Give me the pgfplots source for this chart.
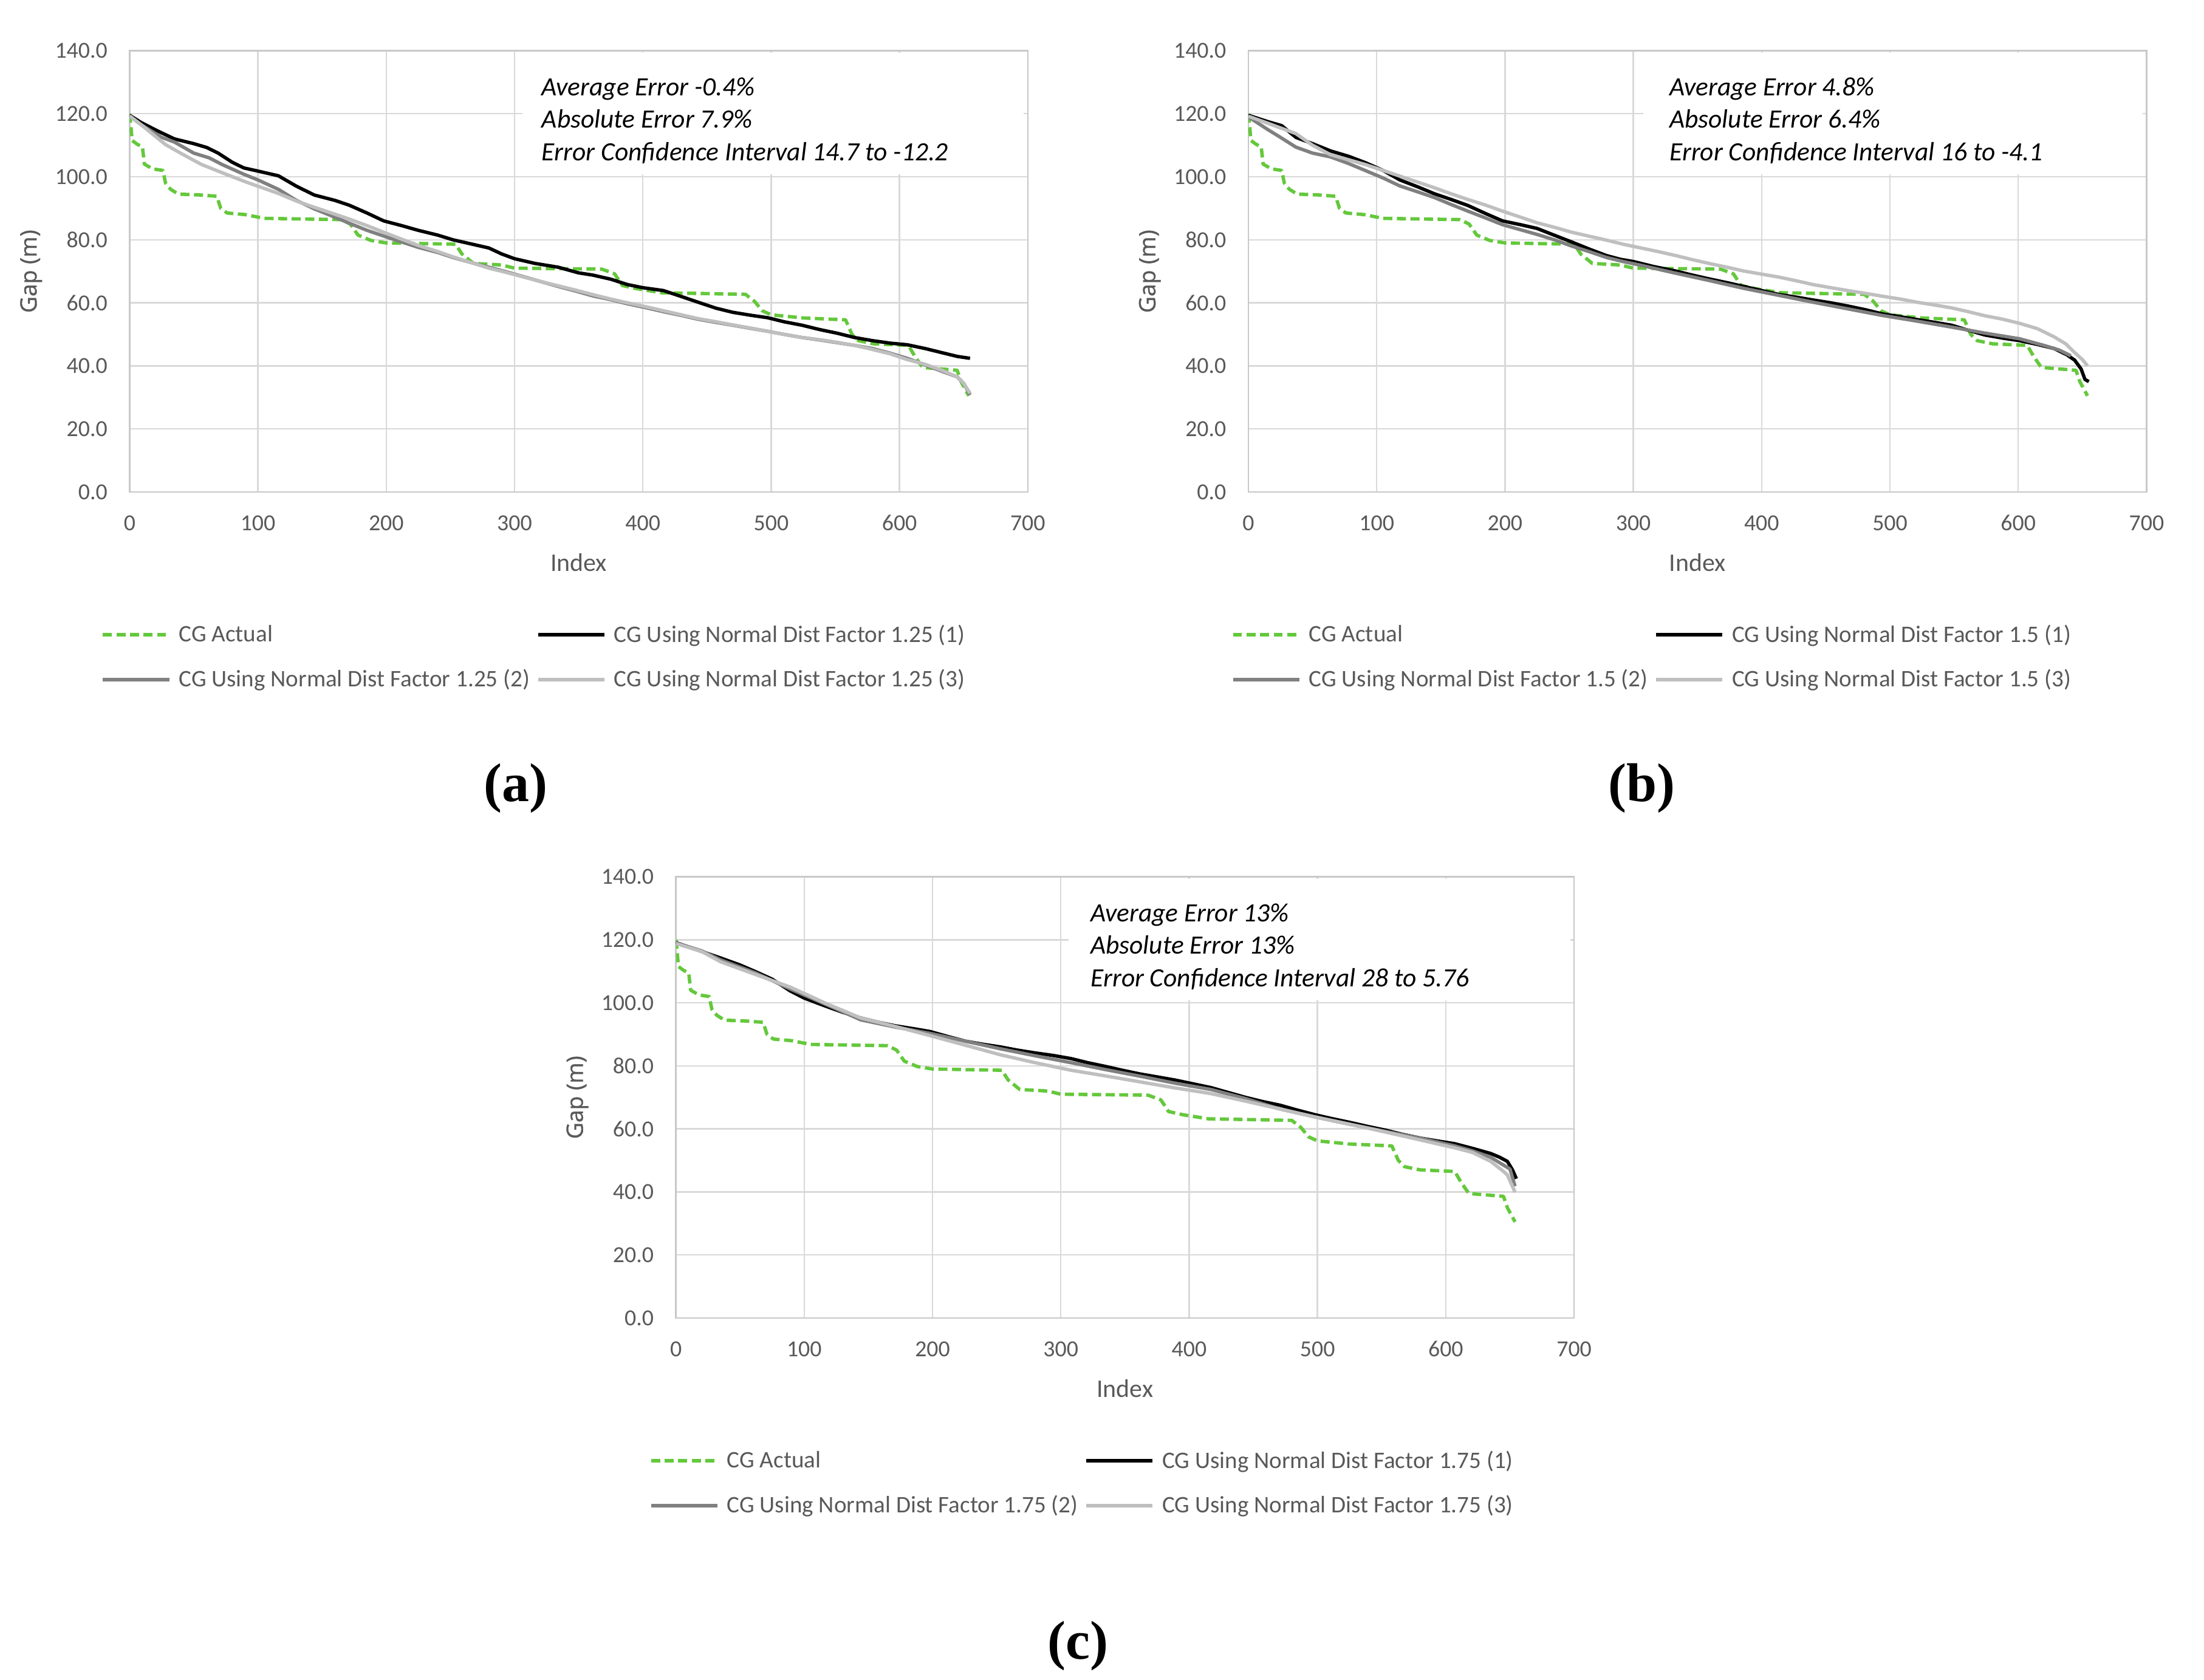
\documentclass[border=0pt]{standalone}
\usepackage{fontspec}
\setmainfont{Carlito}
\newfontfamily\opensans{Open Sans}[FakeBold=1]
\newfontfamily\timesf{Liberation Serif}
\usepackage{pgfplots}
\usepackage{pgfplotstable}
\pgfplotsset{compat=1.18}
\definecolor{cggreen}{RGB}{100,200,60}
\definecolor{cgdark}{RGB}{128,128,128}
\definecolor{cglight}{RGB}{191,191,191}
\definecolor{gridc}{RGB}{217,217,217}
\definecolor{framec}{RGB}{200,200,200}
\definecolor{labc}{RGB}{89,89,89}

\pgfplotstableread{
x y
0 120
1 116
2 111.5
6 110.3
10 109.5
11.5 104
18 102.5
26 102
28 98
32 96
38 94.5
56 94.2
68 93.8
71 90
76 88.5
90 88
100 87.2
105 86.8
150 86.5
165 86.4
172 85
178 81.5
188 79.8
200 79
254 78.6
259 75.5
268 72.5
290 72
300 71
368 70.7
378 69.2
384 65.5
395 64.5
415 63.2
480 62.7
487 60.5
493 57.5
500 56.2
525 55.2
558 54.6
563 50
568 48
580 47
607 46.5
612 43
618 39.5
645 38.6
648 35
654 30.5
}\greentab

\pgfplotstableread{
x y
0 119.5
9 117.2
22 114.5
35 112
50 110.5
60 109.3
69 107.5
80 104.6
89 102.8
100 101.8
116 100.3
130 97
144 94.2
160 92.5
171 91
185 88.5
198 86
212 84.5
225 83
240 81.5
252 80
266 78.7
280 77.4
290 75.5
300 74
316 72.5
334 71.3
350 69.5
361 68.8
375 67.5
388 65.8
400 64.8
416 63.9
430 62
443 60.2
457 58.3
470 57
485 56
497 55.3
510 54
524 52.9
538 51.5
551 50.4
565 49
579 48
593 47.2
606 46.7
620 45.5
633 44.2
645 43
655 42.4
}\aone

\pgfplotstableread{
x y
0 119.3
9 116.5
25 112.5
35 111
50 107.5
62 106
72 103.9
89 100.8
100 99
116 96
130 92.5
144 89.8
158 87.5
171 85.3
185 83
198 81.2
212 79.3
225 77.6
240 76
252 74.4
266 72.8
280 71.3
294 69.8
307 68.3
320 66.8
334 65.2
348 63.7
361 62.2
375 61
388 59.7
402 58.5
416 57.2
430 56
443 54.8
457 53.8
470 52.9
484 51.9
497 51
510 50
524 49
538 48.2
551 47.4
565 46.5
579 45.5
593 44
606 42.4
620 40.3
633 38.3
645 36.5
650 34.5
655 30.8
}\atwo

\pgfplotstableread{
x y
0 119.3
9 116.5
28 110.2
41 107.2
56 103.9
72 101.3
89 98.6
100 97
116 94.7
130 92.3
144 90.3
158 88.4
171 86.6
185 84.5
198 82.4
212 80.2
225 78.2
240 76.3
252 74.6
266 72.8
280 71
294 69.6
307 68.2
320 66.8
334 65.4
348 64
361 62.6
375 61.2
388 60
402 58.8
416 57.5
430 56.2
443 55
457 54
470 53
484 52
497 51
510 50
524 49
538 48.3
551 47.5
565 46.5
579 45.2
593 43.8
606 42
620 40.5
633 38.6
645 36.5
650 34.5
655 31.3
}\athree

\pgfplotstableread{
x y
0 119.5
15 117.5
26 116.2
37 112.5
50 110.5
64 108.2
78 106.5
91 104.5
105 102
118 99
132 96.8
145 94.6
158 92.8
171 90.9
185 88.3
198 86
212 84.8
225 83.6
240 81.2
252 79.3
266 77
279 75
290 73.8
300 73.1
316 71.5
333 70.1
346 68.8
359 67.6
373 66.4
386 65.2
400 63.9
413 62.7
427 61.8
440 60.9
454 60
467 59
481 57.8
494 56.5
508 55.6
521 54.7
535 53.8
548 52.9
561 51.3
574 49.8
588 48.8
601 48
615 46.8
628 45.5
638 43.5
644 41.8
649 39
652 35.7
655 35
}\bone

\pgfplotstableread{
x y
0 119
15 115
25 112.5
37 109.4
50 107.5
64 106.3
78 104.2
91 102
105 99.6
118 97.1
132 95.2
145 93.4
158 91.2
171 89.1
185 86.9
198 84.8
212 83.2
225 81.7
240 79.8
252 78
266 76.2
279 74.4
292 73.1
306 71.9
320 70.6
333 69.4
360 67
386 64.6
413 62.4
440 60.2
467 58.1
494 56
521 54.2
548 52.3
574 50.4
601 48.6
620 46.5
632 45
641 43.2
}\btwo

\pgfplotstableread{
x y
0 119.2
15 117
37 113.7
50 110
64 107
78 105.4
91 103.9
105 102
118 100.2
132 98.3
145 96.5
158 94.6
171 92.8
185 91
198 89.1
212 87.2
225 85.4
240 83.8
252 82.4
266 81.1
279 79.9
292 78.6
306 77.4
320 76.2
333 75
346 73.7
359 72.5
373 71.3
386 70.1
400 69.1
413 68.2
427 67
440 65.8
454 64.8
467 63.9
481 63
494 62.1
508 61.2
521 60.2
535 59.3
548 58.4
561 57.2
574 55.9
588 54.8
601 53.5
615 51.8
628 49.2
637 47
644 44.2
650 42
654 40
}\bthree

\pgfplotstableread{
x y
0 119.1
15 117
35 114.2
50 112
62 109.9
75 107.5
89 103.8
100 101.5
117 98.9
130 97
144 95.2
158 93.8
171 92.7
185 91.8
198 90.9
212 89.3
226 87.8
240 86.8
253 86
266 85
280 84.1
294 83.3
308 82.3
321 81
335 79.8
348 78.6
362 77.4
375 76.5
389 75.5
403 74.3
417 73.1
430 71.6
444 70
457 68.7
471 67.5
484 66
498 64.5
512 63.2
526 62
539 60.8
553 59.6
566 58.3
580 57.1
593 56.2
607 55.3
621 53.8
635 52.2
642 51
648 49.7
652 47
655 44.2
}\cone

\pgfplotstableread{
x y
0 119
20 116.5
35 113.6
62 109.5
89 104.4
117 99.5
144 94.6
171 92.3
198 90.3
226 87.8
253 85.4
280 83.2
308 81
335 78.8
362 76.7
389 74.5
417 72.5
444 69.6
471 66.3
498 63.8
526 61.4
553 59.2
580 57.1
607 54.6
621 53
635 51
645 48.5
650 47.3
654 41.8
}\ctwo

\pgfplotstableread{
x y
0 118.8
20 116.3
35 113
62 109
89 105
117 99.8
144 95.2
171 92.5
198 89.6
226 86.5
253 83.5
280 81
308 78.6
335 76.8
362 74.9
389 73
417 71.2
444 68.8
471 66.3
498 63.8
526 61.4
553 59
580 56.5
607 54
621 52.5
635 49.7
645 46.5
648 45.4
654 39.9
}\cthree

\pgfplotsset{
 cgaxis/.style={
  scale only axis, width=476.8pt, height=234.3pt,
  xmin=0, xmax=700, ymin=0, ymax=140,
  xtick={0,100,...,700}, ytick={0,20,...,140},
  xticklabels={0,100,200,300,400,500,600,700},
  yticklabels={0.0,20.0,40.0,60.0,80.0,100.0,120.0,140.0},
  grid=major, major grid style={draw=gridc, line width=0.8pt},
  axis line style={draw=framec, line width=0.8pt},
  major tick length=0pt, tick style={draw=none},
  every tick label/.append style={inner sep=0pt, font=\fontsize{12.2}{14}\selectfont, text=labc},
  xticklabel style={anchor=center, yshift=-16.5pt},
  yticklabel style={anchor=east, xshift=-11.6pt},
  xlabel={Index}, ylabel={Gap (m)},
  xlabel style={at={(axis description cs:0.5,0)}, anchor=center, yshift=-37.5pt, font=\fontsize{13.5}{16}\selectfont, text=labc},
  ylabel style={at={(axis description cs:0,0.5)}, anchor=center, yshift=52.3pt, font=\opensans\fontsize{12}{14}\selectfont, text=labc},
  legend columns=2,
  legend cell align=left,
  legend style={draw=none, fill=none, inner sep=0pt, at={(axis description cs:0,0)}, anchor=north west, yshift=-68.3pt, font=\fontsize{12.6}{15}\selectfont, text=labc, row sep=9pt, column sep=0pt, /tikz/column 2/.style={column sep=1.5pt}},
  legend image code/.code={\draw[#1] (0pt,0pt) -- (35.25pt,0pt); \path (37.5pt,0pt);},
  every axis plot/.append style={line width=1.8pt, line join=round},
 },
 actual/.style={cggreen, dash pattern=on 4.8pt off 2.4pt},
 sone/.style={black},
 stwo/.style={cgdark},
 sthree/.style={cglight},
}
\tikzset{annot/.style={anchor=base west, inner sep=0pt, font=\itshape\fontsize{14}{16}\selectfont, text=black}}

\begin{document}
\begin{tikzpicture}
\path[use as bounding box] (0pt,0pt) rectangle (1170pt,-892pt);

% (a)
\begin{axis}[cgaxis, at={(68.8pt,-261.2pt)}, anchor=south west, legend style={xshift=-15.3pt}]
\fill[white] (axis cs:306,100.8) rectangle (axis cs:697,139.3);
\addplot[actual] table {\greentab};
\addlegendentry{CG Actual}
\addplot[sone] table {\aone};
\addlegendentry{CG Using Normal Dist Factor 1.25 (1)}
\addplot[stwo] table {\atwo};
\addlegendentry{CG Using Normal Dist Factor 1.25 (2)}
\addplot[sthree] table {\athree};
\addlegendentry{CG Using Normal Dist Factor 1.25 (3)}
\node[annot] at (axis cs:321,125.7) {Average Error -0.4\%};
\node[annot] at (axis cs:321,115.5) {Absolute Error 7.9\%};
\node[annot] at (axis cs:321,105.2) {Error Confidence Interval 14.7 to -12.2};
\end{axis}

% (b)
\begin{axis}[cgaxis, at={(662.7pt,-261.2pt)}, anchor=south west, legend style={xshift=-9.3pt}]
\fill[white] (axis cs:308,100.8) rectangle (axis cs:697,139.3);
\addplot[actual] table {\greentab};
\addlegendentry{CG Actual}
\addplot[sone] table {\bone};
\addlegendentry{CG Using Normal Dist Factor 1.5 (1)}
\addplot[stwo] table {\btwo};
\addlegendentry{CG Using Normal Dist Factor 1.5 (2)}
\addplot[sthree] table {\bthree};
\addlegendentry{CG Using Normal Dist Factor 1.5 (3)}
\node[annot] at (axis cs:328,125.7) {Average Error 4.8\%};
\node[annot] at (axis cs:328,115.5) {Absolute Error 6.4\%};
\node[annot] at (axis cs:328,105.2) {Error Confidence Interval 16 to -4.1};
\end{axis}

% (c)
\begin{axis}[cgaxis, at={(358.8pt,-699.8pt)}, anchor=south west, legend style={xshift=-14.3pt}]
\fill[white] (axis cs:306,100.8) rectangle (axis cs:697,139.3);
\addplot[actual] table {\greentab};
\addlegendentry{CG Actual}
\addplot[sone] table {\cone};
\addlegendentry{CG Using Normal Dist Factor 1.75 (1)}
\addplot[stwo] table {\ctwo};
\addlegendentry{CG Using Normal Dist Factor 1.75 (2)}
\addplot[sthree] table {\cthree};
\addlegendentry{CG Using Normal Dist Factor 1.75 (3)}
\node[annot] at (axis cs:323,125.7) {Average Error 13\%};
\node[annot] at (axis cs:323,115.5) {Absolute Error 13\%};
\node[annot] at (axis cs:323,105.2) {Error Confidence Interval 28 to 5.76};
\end{axis}

\node[font=\timesf\bfseries\fontsize{29}{32}\selectfont] at (273.75pt,-418.5pt) {(a)};
\node[font=\timesf\bfseries\fontsize{29}{32}\selectfont] at (871.5pt,-418.5pt) {(b)};
\node[font=\timesf\bfseries\fontsize{29}{32}\selectfont] at (572.25pt,-873.75pt) {(c)};
\end{tikzpicture}
\end{document}
